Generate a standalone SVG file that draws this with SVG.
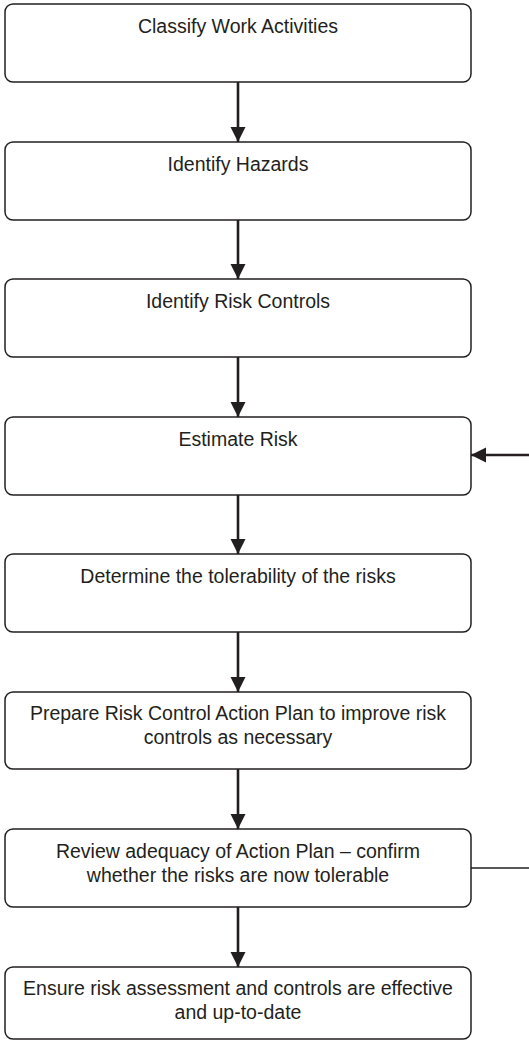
<svg xmlns="http://www.w3.org/2000/svg" width="529" height="1041" viewBox="0 0 529 1041">
<defs>
<style>
.box{fill:#fff;stroke:#231f20;stroke-width:1.5}
.lbl{font-family:"Liberation Sans",Arial,sans-serif;font-size:19.5px;fill:#231f20;text-anchor:middle}
.conn{stroke:#231f20;stroke-width:2.6;fill:none}
.thin{stroke:#231f20;stroke-width:1.3;fill:none}
</style>
<marker id="ah" markerUnits="userSpaceOnUse" markerWidth="16" markerHeight="16" viewBox="0 0 16 16" refX="15" refY="8" orient="auto">
<path d="M0,0.5 L15,8 L0,15.5 Z" fill="#231f20"/>
</marker>
</defs>
<rect width="529" height="1041" fill="#fff"/>
<g id="connectors">
<line class="conn" x1="238" y1="82" x2="238" y2="142" marker-end="url(#ah)"/>
<line class="conn" x1="238" y1="220" x2="238" y2="279" marker-end="url(#ah)"/>
<line class="conn" x1="238" y1="357" x2="238" y2="417" marker-end="url(#ah)"/>
<line class="conn" x1="238" y1="495" x2="238" y2="554" marker-end="url(#ah)"/>
<line class="conn" x1="238" y1="632" x2="238" y2="692" marker-end="url(#ah)"/>
<line class="conn" x1="238" y1="769" x2="238" y2="829" marker-end="url(#ah)"/>
<line class="conn" x1="238" y1="907" x2="238" y2="967" marker-end="url(#ah)"/>
<line class="thin" x1="471" y1="868" x2="529" y2="868"/>
<line class="conn" x1="529" y1="455" x2="471" y2="455" stroke-width="2.2" marker-end="url(#ah)"/>
</g>
<g id="n1"><rect class="box" x="5" y="4" width="466" height="78" rx="8"/><text class="lbl" x="238" y="33">Classify Work Activities</text></g>
<g id="n2"><rect class="box" x="5" y="142" width="466" height="78" rx="8"/><text class="lbl" x="238" y="171">Identify Hazards</text></g>
<g id="n3"><rect class="box" x="5" y="279" width="466" height="78" rx="8"/><text class="lbl" x="238" y="308">Identify Risk Controls</text></g>
<g id="n4"><rect class="box" x="5" y="417" width="466" height="78" rx="8"/><text class="lbl" x="238" y="446">Estimate Risk</text></g>
<g id="n5"><rect class="box" x="5" y="554" width="466" height="78" rx="8"/><text class="lbl" x="238" y="583">Determine the tolerability of the risks</text></g>
<g id="n6"><rect class="box" x="5" y="692" width="466" height="77" rx="8"/><text class="lbl" x="238" y="720">Prepare Risk Control Action Plan to improve risk</text><text class="lbl" x="238" y="744">controls as necessary</text></g>
<g id="n7"><rect class="box" x="5" y="829" width="466" height="78" rx="8"/><text class="lbl" x="238" y="858">Review adequacy of Action Plan – confirm</text><text class="lbl" x="238" y="882">whether the risks are now tolerable</text></g>
<g id="n8"><rect class="box" x="5" y="967" width="466" height="72" rx="8"/><text class="lbl" x="238" y="995">Ensure risk assessment and controls are effective</text><text class="lbl" x="238" y="1019">and up-to-date</text></g>
</svg>
